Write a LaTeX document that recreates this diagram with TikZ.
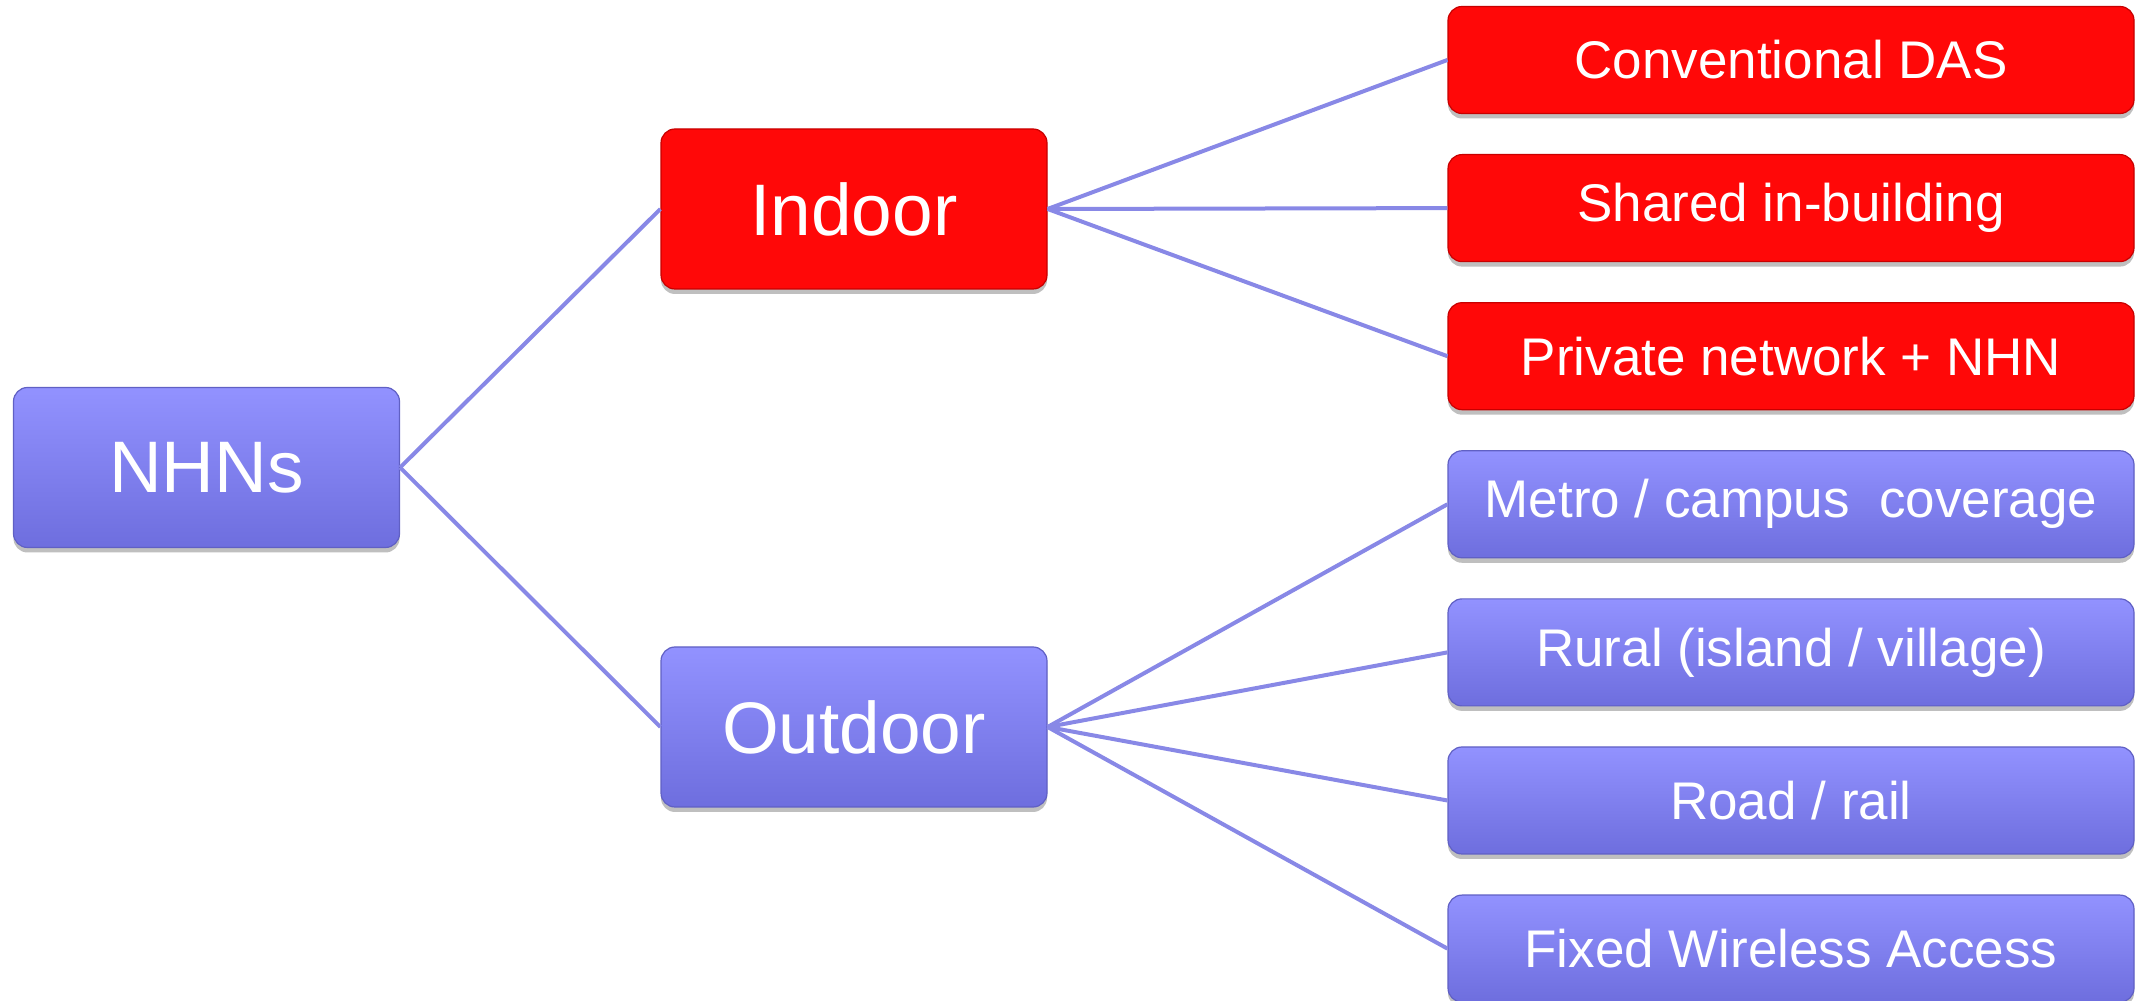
\documentclass[tikz,border=0pt]{standalone}
\usepackage{fontspec}
\setmainfont{Liberation Sans}
\usetikzlibrary{shadows}
\definecolor{bluetop}{RGB}{146,146,255}
\definecolor{bluebot}{RGB}{110,110,222}
\definecolor{blueedge}{RGB}{96,96,196}
\definecolor{redfill}{RGB}{255,8,8}
\definecolor{rededge}{RGB}{200,0,0}
\definecolor{linkcol}{RGB}{136,136,230}
\begin{document}
\begin{tikzpicture}[x=1pt,y=1pt,
  basebox/.style={rounded corners=14pt, inner sep=0pt, text=white, line width=1.2pt,
    drop shadow={shadow xshift=0pt, shadow yshift=-5pt, opacity=0.25, fill=black}},
  bluebox/.style={basebox, top color=bluetop, bottom color=bluebot, draw=blueedge},
  redbox/.style={basebox, fill=redfill, draw=rededge},
  mainbox/.style={minimum width=386pt, minimum height=160pt, font=\fontsize{73}{80}\selectfont},
  leafbox/.style={minimum width=686pt, minimum height=107pt, font=\fontsize{53}{60}\selectfont},
  link/.style={draw=linkcol, line width=4pt}
]
\useasboundingbox (0,0) rectangle (2136,1001);

\node[bluebox, mainbox] (nhn) at (206.5, 1001-467.5) {NHNs};
\node[redbox, mainbox] (indoor) at (854, 1001-209) {Indoor};
\node[bluebox, mainbox] (outdoor) at (854, 1001-727) {Outdoor};

\node[redbox, leafbox] (das) at (1791, 1001-60) {Conventional DAS};
\node[redbox, leafbox] (shared) at (1791, 1001-208.1) {Shared in-building};
\node[redbox, leafbox] (private) at (1791, 1001-356.2) {Private network + NHN};
\node[bluebox, leafbox] (metro) at (1791, 1001-504.3) {Metro / campus\ \ coverage};
\node[bluebox, leafbox] (rural) at (1791, 1001-652.4) {Rural (island / village)};
\node[bluebox, leafbox] (road) at (1791, 1001-800.5) {Road / rail};
\node[bluebox, leafbox] (fwa) at (1791, 1001-948.6) {Fixed Wireless Access};

\draw[link] (nhn.east) -- (indoor.west);
\draw[link] (nhn.east) -- (outdoor.west);
\foreach \t in {das,shared,private} \draw[link] (indoor.east) -- (\t.west);
\foreach \t in {metro,rural,road,fwa} \draw[link] (outdoor.east) -- (\t.west);
\end{tikzpicture}
\end{document}
